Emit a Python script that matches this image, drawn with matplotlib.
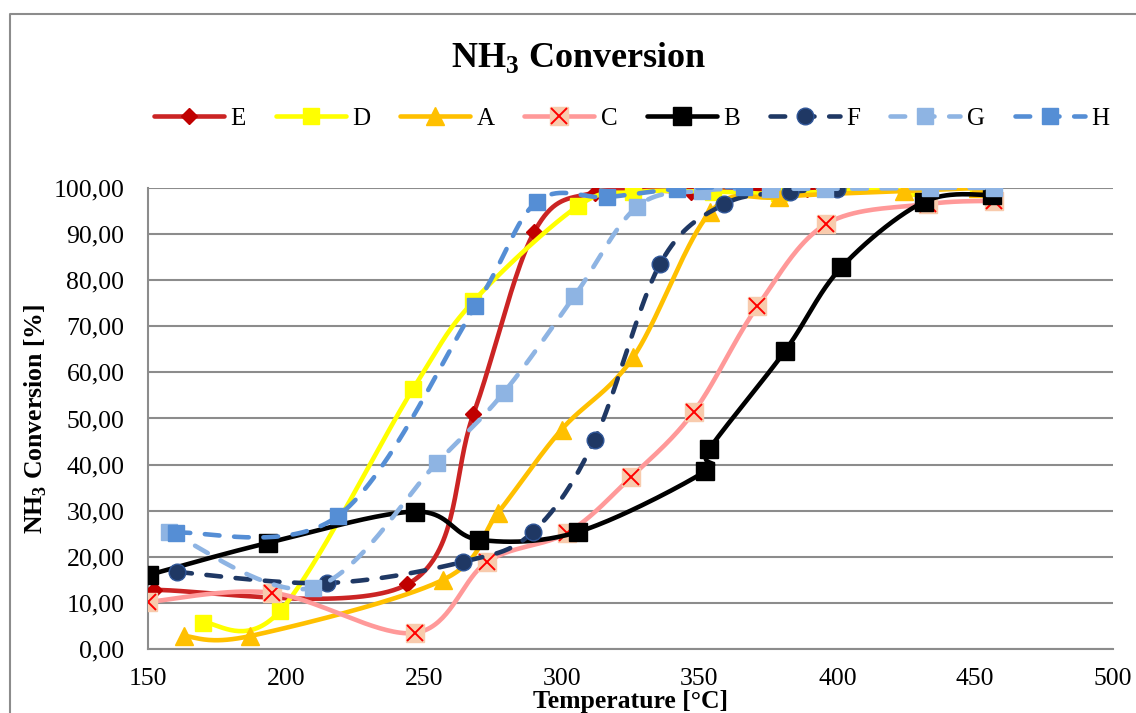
import numpy as np
import matplotlib
matplotlib.use("Agg")
import matplotlib.pyplot as plt
from matplotlib.lines import Line2D

plt.rcParams['font.family'] = ['Liberation Serif', 'DejaVu Serif']
plt.rcParams['mathtext.fontset'] = 'custom'
plt.rcParams['mathtext.rm'] = 'Liberation Serif'
plt.rcParams['mathtext.bf'] = 'Liberation Serif:bold'

# ---------------- data ----------------
series_names = ['E', 'D', 'A', 'C', 'B', 'F', 'G', 'H']

E_x = [152, 244, 268, 290, 312, 347, 370, 389]
E_y = [12.8, 14.0, 50.9, 90.4, 99.0, 99.2, 99.6, 99.8]

D_x = [170, 198, 246, 268, 306, 326, 355, 379, 425, 451]
D_y = [5.7, 8.3, 56.3, 75.4, 96.1, 99.1, 99.2, 98.8, 100.0, 100.0]

A_x = [163, 187, 257, 277, 300, 326, 354, 379, 424, 451]
A_y = [2.8, 2.8, 15.0, 29.6, 47.6, 63.3, 94.8, 98.0, 99.3, 100.0]

C_x = [150, 195, 247, 273, 302, 325, 348, 371, 396, 433, 457]
C_y = [10.2, 12.2, 3.5, 18.9, 25.2, 37.2, 51.5, 74.3, 92.2, 96.5, 97.2]

B_x = [150.5, 193.5, 247, 270, 306, 352, 353.5, 381, 401.5, 431.5, 456]
B_y = [16.1, 23.0, 29.8, 23.7, 25.4, 38.5, 43.3, 64.6, 82.8, 97.0, 98.5]

F_x = [160.6, 214.8, 264.3, 289.6, 312, 335.7, 359, 383, 400]
F_y = [16.7, 14.3, 18.9, 25.4, 45.4, 83.5, 96.5, 99.1, 99.8]

G_x = [157.7, 210, 254.8, 279, 304.6, 327.3, 351, 375.6, 395.5, 433.5, 457]
G_y = [25.4, 13.3, 40.4, 55.6, 76.5, 95.9, 99.4, 99.8, 99.8, 100.0, 100.0]

H_x = [160, 219, 268.7, 291, 316.5, 342, 366]
H_y = [25.2, 28.9, 74.3, 97.0, 98.0, 99.8, 100.2]

x_ticks = [150, 200, 250, 300, 350, 400, 450, 500]
y_ticks = [0, 10, 20, 30, 40, 50, 60, 70, 80, 90, 100]
y_tick_labels = ['0,00', '10,00', '20,00', '30,00', '40,00', '50,00',
                 '60,00', '70,00', '80,00', '90,00', '100,00']


def smooth(x, y, n=40):
    # Excel style smoothed line (bezier through the points)
    pts = np.column_stack([x, y]).astype(float)
    ext = np.vstack([pts[0], pts, pts[-1]])
    t = np.linspace(0, 1, n)[:, None]
    out = []
    for i in range(len(pts) - 1):
        p0, p1, p2, p3 = ext[i], ext[i + 1], ext[i + 2], ext[i + 3]
        c1 = p1 + (p2 - p0) / 6
        c2 = p2 - (p3 - p1) / 6
        seg = (1 - t) ** 3 * p1 + 3 * (1 - t) ** 2 * t * c1 + 3 * (1 - t) * t ** 2 * c2 + t ** 3 * p2
        out.append(seg if i == 0 else seg[1:])
    s = np.vstack(out)
    return s[:, 0], s[:, 1]


dash = (3.2, 3.2)
styles = {
    'E': dict(lc='#CB2424', ls='-', m='D', ms=8.5, mfc='#C00000', mec='#C00000'),
    'D': dict(lc='#FFFF00', ls='-', m='s', ms=12, mfc='#FFFF00', mec='#FFFF00'),
    'A': dict(lc='#FFC000', ls='-', m='^', ms=13, mfc='#FFC000', mec='#FFC000'),
    'C': dict(lc='#FF9999', ls='-', m='s', ms=13, mfc='#F8CBAD', mec='#F8CBAD'),
    'B': dict(lc='#000000', ls='-', m='s', ms=13, mfc='#000000', mec='#000000'),
    'F': dict(lc='#1F3864', ls=(0, dash), m='o', ms=12, mfc='#1F3864', mec='#2F5597'),
    'G': dict(lc='#8EB4E3', ls=(0, dash), m='s', ms=12, mfc='#8EB4E3', mec='#8EB4E3'),
    'H': dict(lc='#558ED5', ls=(0, dash), m='s', ms=12, mfc='#558ED5', mec='#558ED5'),
}
data = {'E': (E_x, E_y), 'D': (D_x, D_y), 'A': (A_x, A_y), 'C': (C_x, C_y),
        'B': (B_x, B_y), 'F': (F_x, F_y), 'G': (G_x, G_y), 'H': (H_x, H_y)}

fig = plt.figure(figsize=(11.36, 7.13), dpi=100)
ax = fig.add_axes([0.1303, 0.0898, 0.8495, 0.6466])

lw = 3.3
handles = []
for name in series_names:
    xs, ys = data[name]
    st = styles[name]
    sx, sy = smooth(xs, ys)
    ax.plot(sx, sy, color=st['lc'], lw=lw, ls=st['ls'], dash_capstyle='round',
            solid_capstyle='round', zorder=3)
    ax.plot(xs, ys, ls='none', marker=st['m'], ms=st['ms'], mfc=st['mfc'],
            mec=st['mec'], mew=1, zorder=3)
    h = Line2D([], [], color=st['lc'], lw=lw, ls=st['ls'], dash_capstyle='round',
               solid_capstyle='round', marker=st['m'], ms=st['ms'],
               mfc=st['mfc'], mec=st['mec'], mew=1)
    if name == 'C':
        ax.plot(xs, ys, ls='none', marker='x', ms=11, mec='#FF0000', mew=1.4, zorder=3)
        h = (h, Line2D([], [], ls='none', marker='x', ms=11, mec='#FF0000', mew=1.4))
    handles.append(h)

ax.set_xlim(150, 500)
ax.set_ylim(0, 100)
ax.set_xticks(x_ticks)
ax.set_xticklabels([str(v) for v in x_ticks])
ax.set_yticks(y_ticks)
ax.set_yticklabels(y_tick_labels)
ax.tick_params(length=0, labelsize=18.5)
ax.tick_params(axis='x', pad=14)
ax.tick_params(axis='y', pad=17)
ax.yaxis.grid(True, color='#8C8C8C', lw=1.5)
ax.set_axisbelow(True)
for s in ['top', 'right']:
    ax.spines[s].set_visible(False)
for s in ['left', 'bottom']:
    ax.spines[s].set_color('#8C8C8C')
    ax.spines[s].set_linewidth(1.5)
ax.patch.set_alpha(0)

ax.set_xlabel('Temperature [°C]', fontsize=18.5, fontweight='bold')
ax.xaxis.set_label_coords(0.5, -0.115)
ax.xaxis.label.set_va('center')
ax.set_ylabel(r'NH$_{\mathbf{3}}$ Conversion [%]', fontsize=18.5, fontweight='bold')
ax.yaxis.set_label_coords(-0.116, 0.5)
ax.yaxis.label.set_va('center')

fig.text(0.509, 0.92, r'NH$_{\mathbf{3}}$ Conversion', fontsize=26, fontweight='bold',
         ha='center', va='center')

fig.legend(handles, series_names, loc='center', bbox_to_anchor=(0.556, 0.834),
           ncol=8, frameon=False, fontsize=18, handlelength=2.8,
           handletextpad=0.25, columnspacing=1.2, borderaxespad=0)

# chart border (cut at the right and bottom)
fig.add_artist(Line2D([0.0088, 0.0088, 1.0], [0.0, 0.9804, 0.9804],
                      transform=fig.transFigure, color='#8C8C8C', lw=1.5))

fig.savefig('out.png', dpi=100)
